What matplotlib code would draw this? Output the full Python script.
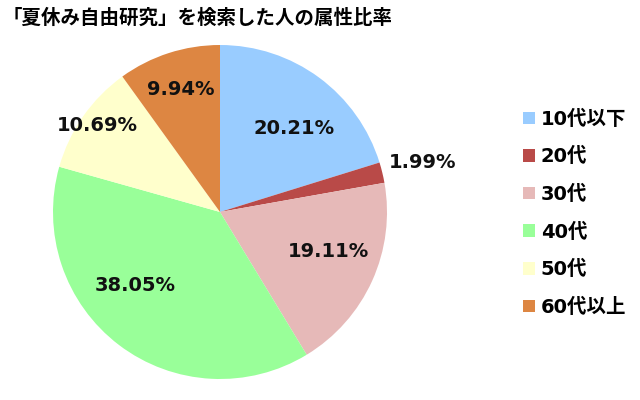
import matplotlib
matplotlib.use("Agg")
import matplotlib.pyplot as plt
import numpy as np
from matplotlib.patches import Patch

plt.rcParams['font.family'] = ['DejaVu Sans', 'Noto Sans CJK JP']

title = "「夏休み自由研究」を検索した人の属性比率"
labels = ["10代以下", "20代", "30代", "40代", "50代", "60代以上"]
shares = [20.21, 1.99, 19.11, 38.05, 10.69, 9.94]
colors = ["#99CCFF", "#B94A48", "#E6B9B8", "#99FF99", "#FFFFCC", "#DD8642"]
# where each percentage sits: fraction of radius, and turn (deg) from the wedge middle
label_dist = [0.67, 1.25, 0.69, 0.67, 0.9, 0.77]
label_turn = [-5, 0, 4.5, -12, 0, 0]

fig = plt.figure(figsize=(6.4, 4.0), dpi=100)
# pie centre ~ (220, 212) px, radius ~167 px
ax = fig.add_axes([(220 - 167) / 640, (400 - 379) / 400, 334 / 640, 334 / 400])

wedges, _ = ax.pie(shares, colors=colors, startangle=90, counterclock=False,
                   wedgeprops=dict(linewidth=0))
ax.set_xlim(-1, 1)
ax.set_ylim(-1, 1)
ax.set_aspect('equal')

for w, val, d, t in zip(wedges, shares, label_dist, label_turn):
    ang = np.deg2rad((w.theta1 + w.theta2) / 2 + t)
    ax.text(d * np.cos(ang), d * np.sin(ang), f"{val:.2f}%",
            ha='center', va='center', fontsize=14, fontweight='bold',
            color='#111111', clip_on=False)

fig.text(0.004, 0.955, title, fontsize=14, fontweight='bold', ha='left', va='center',
         family=['Noto Sans CJK JP', 'DejaVu Sans'])

handles = [Patch(facecolor=c, edgecolor='none') for c in colors]
fig.legend(handles, labels, loc='center left', bbox_to_anchor=(0.805, 0.467),
           frameon=False, prop=dict(size=14, weight='bold'),
           handlelength=0.62, handleheight=0.62, handletextpad=0.3,
           labelspacing=0.95, borderaxespad=0)

fig.savefig("out.png", dpi=100)
